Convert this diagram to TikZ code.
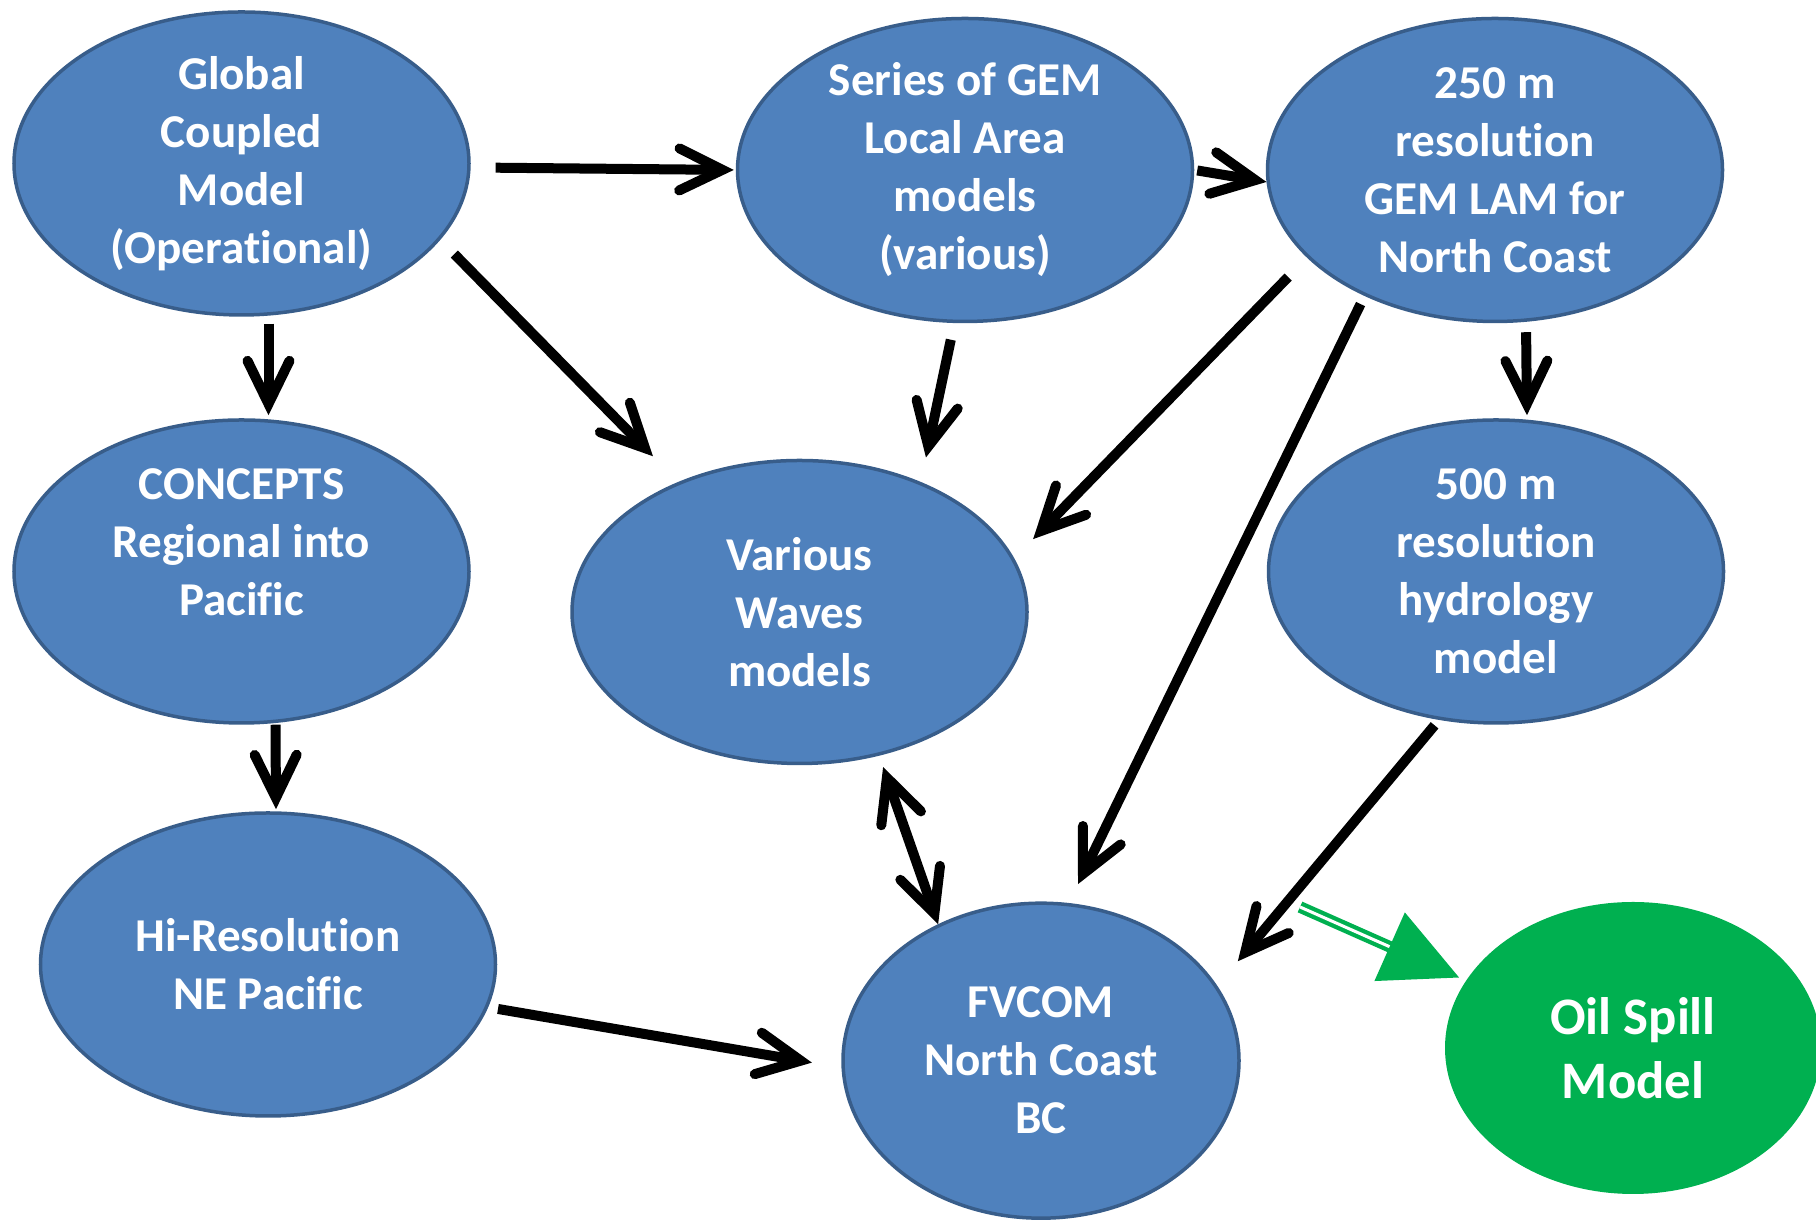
\documentclass[tikz,border=0pt]{standalone}
\usepackage{fontspec}
\setmainfont{Carlito}[RawFeature={-liga;-clig;-calt;-dlig}]
\usetikzlibrary{arrows.meta,shapes.geometric}
\definecolor{modelblue}{HTML}{4F81BD}
\definecolor{modelline}{HTML}{385D8A}
\definecolor{spillgreen}{HTML}{00B050}

\begin{document}
\begin{tikzpicture}[scale=1,
    >={Straight Barb[length=4.3mm,width=4.2mm,line cap=round,line join=miter]},
    model/.style={ellipse, draw=modelline, line width=0.35mm, fill=modelblue, text=white,
      minimum width=4.55cm, minimum height=3.03cm, inner xsep=0pt, inner ysep=-0.5mm,
      align=center, font=\fontsize{13.4}{16.5}\selectfont\bfseries},
    flow/.style={line width=1mm, ->},
    spill/.style={draw=spillgreen, line width=0.43mm, double=white, double distance=0.3mm,
      -{Triangle[length=7.6mm,width=7.4mm]}}]
        \useasboundingbox (0,0) rectangle (18.16,12.22);

        % Modelos
        \node[model] (glob) at (2.415,10.585) {Global\\Coupled\\Model\\(Operational)};
        \node[model] (gem) at (9.65,10.52) {Series of GEM\\Local Area\\models\\(various)};
        \node[model] (lam) at (14.95,10.52) {250 m\\resolution\\GEM LAM for\\North Coast};
        \node[model] (conc) at (2.415,6.505) {CONCEPTS\\Regional into\\Pacific\\\mbox{}};
        \node[model] (wave) at (7.995,6.10) {Various\\Waves\\models};
        \node[model] (hydro) at (14.96,6.505) {500 m\\resolution\\hydrology\\model};
        \node[model] (hires) at (2.68,2.575) {Hi-Resolution\\NE Pacific};
        \node[model, minimum width=3.96cm, minimum height=3.15cm] (fvcom) at (10.41,1.613) {FVCOM\\North Coast\\BC};
        \node[model, draw=none, fill=spillgreen, minimum width=3.76cm, minimum height=2.92cm,
          font=\fontsize{15}{18.3}\selectfont\bfseries] (oil) at (16.33,1.74) {Oil Spill\\Model};

        % Flechas
        \draw[flow, shorten <=2.5mm, shorten >=0.2mm] (glob.-1.7) -- (gem.180);
        \draw[flow, shorten <=0.3mm] (gem.east) -- (lam.183.4);
        \draw[flow, shorten <=0.7mm, shorten >=0.3mm] ([xshift=2.7mm]glob.south) -- ([xshift=2.7mm]conc.north);
        \draw[flow, shorten <=2mm, shorten >=3.6mm] (glob.-21.5) -- (wave.133.4);
        \draw[flow, shorten <=1.7mm, shorten >=2.5mm] (gem.266.6) -- (wave.47.9);
        \draw[flow, shorten <=2.7mm, shorten >=2.7mm] (lam.205.7) -- (wave.14.4);
        \draw[flow, shorten <=0.9mm, shorten >=2.1mm] (lam.224.1) -- (fvcom.80.2);
        \draw[flow, shorten <=0.9mm, shorten >=0.3mm] ([xshift=3.1mm]lam.south) -- ([xshift=3.1mm]hydro.north);
        \draw[flow, shorten >=0.2mm] ([xshift=3.4mm]conc.south) -- ([xshift=0.8mm]hires.north);
        \draw[flow, <->, shorten <=1.2mm] (wave.-61.9) -- (fvcom.127.5);
        \draw[flow, shorten <=0.7mm, shorten >=3.2mm] (hydro.249.4) -- (fvcom.23.3);
        \draw[flow, shorten <=1mm, shorten >=3mm] (hires.-11.4) -- (fvcom.182.2);

        % Flecha verde
        \coordinate (spillstart) at (13.0,3.15);
        \draw[spill, shorten >=0.6mm] (spillstart) -- (oil.158.5);
    \end{tikzpicture}
\end{document}
